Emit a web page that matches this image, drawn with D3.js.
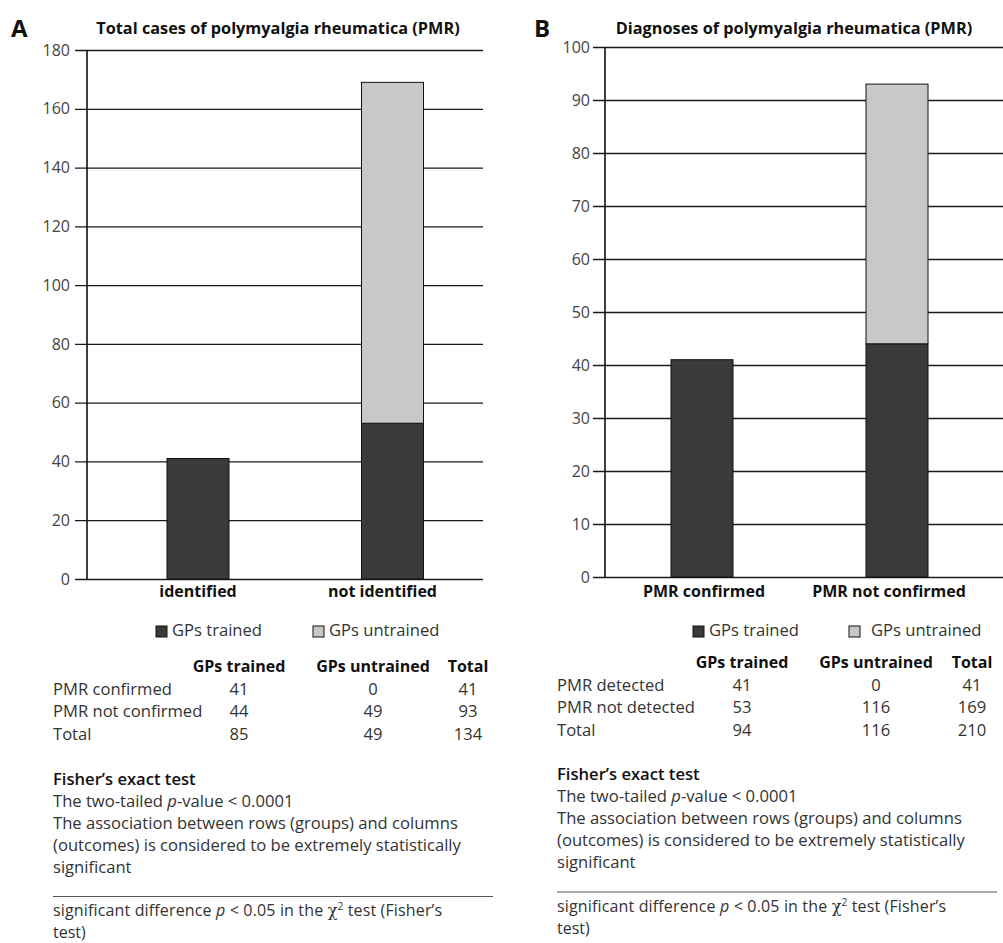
<!DOCTYPE html>
<html>
<head>
<meta charset="utf-8">
<script src="https://cdn.jsdelivr.net/npm/d3@7/dist/d3.min.js"></script>
<style>
  html, body { margin: 0; padding: 0; background: #fff; }
  svg { display: block; font-family: "Open Sans", "Noto Sans", sans-serif; }
</style>
</head>
<body>
<svg id="chart" width="1003" height="943"></svg>
<script>
// ---- Data -------------------------------------------------------------
const seriesNames = ["GPs trained", "GPs untrained"];

const panelATitle = "Total cases of polymyalgia rheumatica (PMR)";
const panelACategories = ["identified", "not identified"];
const panelATrained = [41, 53];
const panelAUntrained = [0, 116];
const panelATicks = [0, 20, 40, 60, 80, 100, 120, 140, 160, 180];

const panelBTitle = "Diagnoses of polymyalgia rheumatica (PMR)";
const panelBCategories = ["PMR confirmed", "PMR not confirmed"];
const panelBTrained = [41, 44];
const panelBUntrained = [0, 49];
const panelBTicks = [0, 10, 20, 30, 40, 50, 60, 70, 80, 90, 100];

const tableColumns = ["GPs trained", "GPs untrained", "Total"];
const tableARows = ["PMR confirmed", "PMR not confirmed", "Total"];
const tableAValues = [[41, 0, 41], [44, 49, 93], [85, 49, 134]];
const tableBRows = ["PMR detected", "PMR not detected", "Total"];
const tableBValues = [[41, 0, 41], [53, 116, 169], [94, 116, 210]];

const fisherHeading = "Fisher\u2019s exact test";
const fisherLines = [
  "The association between rows (groups) and columns",
  "(outcomes) is considered to be extremely statistically",
  "significant"
];

const seriesColors = ["#3a3a3a", "#c8c8c8"];

// ---- Drawing ----------------------------------------------------------
const svg = d3.select("#chart");
const BODY = 16.6;   // running text size
const BOLD = 16;     // bold headings size
const NOTE = 16;     // footnote size

function drawPanel(p) {
  const g = svg.append("g");

  // panel letter and title
  g.append("text").attr("x", p.letterX).attr("y", 37)
    .attr("font-size", 24).attr("font-weight", 700).attr("fill", "#111")
    .text(p.letter);
  g.append("text").attr("x", p.titleX).attr("y", p.titleY)
    .attr("text-anchor", "middle").attr("font-size", 16.3).attr("font-weight", 700)
    .attr("fill", "#111").text(p.title);

  const y = d3.scaleLinear()
    .domain([0, d3.max(p.ticks)])
    .range([p.yBottom, p.yTop]);

  const x = d3.scalePoint()
    .domain(p.categories)
    .range([p.barCenterFirst, p.barCenterLast]);

  // axis with tick marks running across the plot as gridlines
  const axis = d3.axisLeft(y).tickValues(p.ticks).tickSizeOuter(0)
    .tickSizeInner(0).tickPadding(p.tickPad);
  const ax = g.append("g").attr("transform", `translate(${p.x0},0)`).call(axis);
  ax.select(".domain").remove();
  ax.selectAll(".tick line")
    .attr("x1", -p.tickLen).attr("x2", p.x1 - p.x0)
    .attr("stroke", "#1a1a1a").attr("stroke-width", 1.3);
  ax.selectAll(".tick text")
    .attr("font-size", 16).attr("fill", "#444")
    .attr("font-family", "\"Open Sans\", sans-serif");

  // vertical axis line
  g.append("line")
    .attr("x1", p.x0).attr("x2", p.x0)
    .attr("y1", y(d3.max(p.ticks))).attr("y2", y(0))
    .attr("stroke", "#000").attr("stroke-width", 1.5);

  // stacked bars
  const rows = p.categories.map((c, i) => ({
    category: c, [seriesNames[0]]: p.trained[i], [seriesNames[1]]: p.untrained[i]
  }));
  const stack = d3.stack().keys(seriesNames)(rows);
  stack.forEach((layer, li) => {
    g.append("g").selectAll("rect")
      .data(layer.filter(d => d[1] - d[0] > 0))
      .join("rect")
      .attr("x", d => x(d.data.category) - p.barWidth / 2)
      .attr("width", p.barWidth)
      .attr("y", d => y(d[1]))
      .attr("height", d => y(d[0]) - y(d[1]))
      .attr("fill", seriesColors[li])
      .attr("stroke", "#111").attr("stroke-width", 1);
  });

  // category labels
  g.append("g").selectAll("text")
    .data(p.categories).join("text")
    .attr("x", (d, i) => x(d) + p.labelShift[i])
    .attr("y", p.catY)
    .attr("text-anchor", "middle").attr("font-size", BOLD).attr("font-weight", 700)
    .attr("fill", "#111").text(d => d);

  // legend
  const lg = g.append("g");
  seriesNames.forEach((name, i) => {
    lg.append("rect")
      .attr("x", p.legendX[i]).attr("y", p.legendY - 8)
      .attr("width", 11).attr("height", 11)
      .attr("fill", seriesColors[i]).attr("stroke", "#111").attr("stroke-width", 1);
    lg.append("text")
      .attr("x", p.legendTextX[i]).attr("y", p.legendY + 2)
      .attr("font-size", BODY).attr("fill", "#333").text(name);
  });

  // contingency table
  const tg = g.append("g");
  tableColumns.forEach((c, j) => {
    tg.append("text").attr("x", p.colX[j]).attr("y", p.tableY)
      .attr("text-anchor", "middle").attr("font-size", BOLD).attr("font-weight", 700)
      .attr("fill", "#111").text(c);
  });
  p.tableRows.forEach((r, i) => {
    const ry = p.tableY + 22.5 * (i + 1);
    tg.append("text").attr("x", p.textX).attr("y", ry)
      .attr("font-size", BODY).attr("fill", "#333").text(r);
    p.tableValues[i].forEach((v, j) => {
      tg.append("text").attr("x", p.colX[j]).attr("y", ry)
        .attr("text-anchor", "middle").attr("font-size", BODY).attr("fill", "#333")
        .text(v);
    });
  });

  // test result notes
  const ng = g.append("g").attr("font-size", BODY).attr("fill", "#333");
  ng.append("text").attr("x", p.textX).attr("y", p.fisherY)
    .attr("font-weight", 600).attr("fill", "#111").text(fisherHeading);
  const pv = ng.append("text").attr("x", p.textX).attr("y", p.fisherY + 22);
  pv.append("tspan").text("The two-tailed ");
  pv.append("tspan").attr("font-style", "italic").text("p");
  pv.append("tspan").text("-value < 0.0001");
  fisherLines.forEach((t, i) => {
    ng.append("text").attr("x", p.textX).attr("y", p.fisherY + 44 + 22 * i).text(t);
  });

  // footnote rule and text
  g.append("line").attr("x1", p.textX).attr("x2", p.ruleEnd)
    .attr("y1", p.ruleY).attr("y2", p.ruleY)
    .attr("stroke", "#555").attr("stroke-width", 1);
  const fn = g.append("text").attr("x", p.textX).attr("y", p.ruleY + 19.5)
    .attr("font-size", NOTE).attr("fill", "#333").attr("letter-spacing", 0.15);
  fn.append("tspan").text("significant difference ");
  fn.append("tspan").attr("font-style", "italic").text("p");
  fn.append("tspan").text(" < 0.05 in the ");
  fn.append("tspan").attr("font-family", "\"DejaVu Serif\", serif").text("\u03c7");
  fn.append("tspan").attr("font-size", 10).attr("dy", -6).text("2");
  fn.append("tspan").attr("dy", 6).text(" test (Fisher\u2019s");
  g.append("text").attr("x", p.textX).attr("y", p.ruleY + 41.5)
    .attr("font-size", NOTE).attr("fill", "#333").text("test)");
}

drawPanel({
  letter: "A", letterX: 11, title: panelATitle, titleX: 278, titleY: 34,
  categories: panelACategories, trained: panelATrained, untrained: panelAUntrained,
  ticks: panelATicks, x0: 87, x1: 483, yTop: 50, yBottom: 579,
  tickLen: 12, tickPad: 17,
  barCenterFirst: 198, barCenterLast: 392.5, barWidth: 62,
  labelShift: [0, -10], catY: 597,
  legendX: [156, 313], legendTextX: [172, 329], legendY: 634,
  tableRows: tableARows, tableValues: tableAValues,
  colX: [239, 373, 468], tableY: 672, textX: 53,
  fisherY: 785, ruleY: 896.5, ruleEnd: 493
});

drawPanel({
  letter: "B", letterX: 534, title: panelBTitle, titleX: 794, titleY: 34,
  categories: panelBCategories, trained: panelBTrained, untrained: panelBUntrained,
  ticks: panelBTicks, x0: 605, x1: 1003, yTop: 47, yBottom: 577,
  tickLen: 12, tickPad: 15,
  barCenterFirst: 702, barCenterLast: 897, barWidth: 62,
  labelShift: [2, -8], catY: 597,
  legendX: [693, 849], legendTextX: [709, 871], legendY: 634,
  tableRows: tableBRows, tableValues: tableBValues,
  colX: [742, 876, 972], tableY: 668, textX: 557,
  fisherY: 780, ruleY: 892, ruleEnd: 997
});
</script>
</body>
</html>
